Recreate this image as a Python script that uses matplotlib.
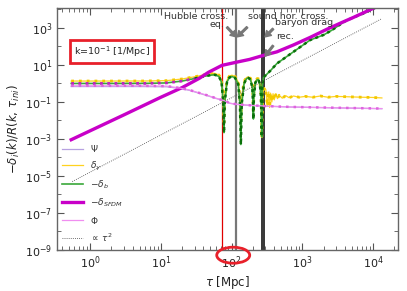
import matplotlib
matplotlib.use("Agg")
import matplotlib.pyplot as plt
from matplotlib.patches import Ellipse
from matplotlib.ticker import NullFormatter, LogLocator

# conformal time [Mpc] and perturbation amplitudes
tau_sfdm = [0.54, 3, 10, 20, 35, 47, 73, 116, 180, 282, 435, 746, 1290, 2220, 3500, 5250, 10000, 12500]
sfdm = [9.1e-4, 0.020, 0.18, 0.6, 1.9, 4.0, 9.5, 14, 20, 33, 51, 120, 310, 850, 1870, 3700, 11500, 17000]

tau_g = [0.54, 2, 6, 12, 20, 30, 40, 50, 58, 66, 72, 76, 78, 80, 86, 93, 101, 112, 124, 131, 135,
         139, 150, 162, 173, 185, 196, 200, 203, 206, 216, 230, 239, 250, 260, 265, 267, 275, 290,
         305, 320, 335, 345, 355, 370, 385, 400, 420, 445, 470, 520, 580, 650, 750, 900, 1100,
         1400, 1800, 2300, 3000, 4500, 7000, 10000, 13300]
delta_g = [1.35, 1.35, 1.36, 1.42, 1.75, 2.3, 2.9, 3.3, 3.5, 2.9, 1.6, 0.2, 0.008, 0.2, 1.5, 2.5,
           2.8, 2.4, 1.2, 0.2, 0.01, 0.2, 1.3, 2.1, 2.3, 1.9, 0.8, 0.2, 0.025, 0.3, 1.3, 1.85, 1.8,
           1.2, 0.3, 0.01, 0.0012, 0.3, 0.6, 0.45, 0.06, 0.35, 0.05, 0.3, 0.1, 0.28, 0.13, 0.25,
           0.15, 0.23, 0.16, 0.22, 0.17, 0.21, 0.18, 0.2, 0.18, 0.21, 0.18, 0.2, 0.19, 0.18, 0.175, 0.165]

tau_b = [0.54, 2, 6, 12, 20, 30, 40, 50, 58, 66, 72, 76, 78, 80, 86, 93, 101, 112, 124, 131, 135,
         139, 150, 162, 173, 185, 196, 200, 203, 206, 216, 230, 239, 250, 260, 265, 267, 272, 282,
         355, 437, 746, 1290, 1995, 2600, 3200, 4000, 5250, 8000, 12500]
delta_b = [1.0, 1.0, 1.01, 1.07, 1.35, 1.85, 2.4, 2.8, 2.95, 2.4, 1.2, 0.1, 0.0022, 0.1, 1.2, 2.1,
           2.4, 2.0, 0.9, 0.08, 0.0005, 0.08, 1.0, 1.8, 2.0, 1.6, 0.6, 0.12, 0.012, 0.15, 1.1, 1.6,
           1.6, 1.0, 0.2, 0.005, 0.0013, 0.8, 2.1, 5, 12, 51, 224, 420, 750, 1300, 2300, 3700, 7000, 17000]

tau_pot = [0.54, 5, 12, 17, 25, 45, 60, 77, 95, 130, 182, 300, 673, 2000, 5000, 13300]
phi = [0.75, 0.75, 0.72, 0.6, 0.45, 0.23, 0.16, 0.12, 0.085, 0.072, 0.066, 0.06, 0.054, 0.05, 0.047, 0.044]
psi = [0.68, 0.68, 0.66, 0.56, 0.43, 0.22, 0.155, 0.118, 0.084, 0.071, 0.065, 0.059, 0.053, 0.049, 0.046, 0.043]

tau_ref = [0.56, 13300]
tau2_ref = [5.0e-6, 3.2e3]

# event times [Mpc]
tau_hubble = 73.5
tau_eq = 116
tau_rec = 272
tau_drag = 287

fig = plt.figure(figsize=(4.07, 2.91), dpi=100)
ax = fig.add_axes([0.140, 0.141, 0.838, 0.832])

ax.axvline(tau_hubble, color="#e00000", lw=0.9, zorder=1)
ax.axvline(tau_eq, color="#777777", lw=1.6, zorder=1)
ax.axvline(tau_rec, color="black", lw=1.1, zorder=1)
ax.axvline(tau_drag, color="black", lw=1.1, zorder=1)

ax.plot(tau_pot, psi, color="#b7a1e0", lw=0.9, label=r"$\Psi$")
ax.plot(tau_g, delta_g, color="#ffd21f", lw=0.9, label=r"$\delta_\gamma$")
ax.plot(tau_g, delta_g, color="#f2c800", lw=2.0, dashes=(1, 1.8))
ax.plot(tau_b, delta_b, color="#3aa83a", lw=1.2, label=r"$-\delta_b$")
nb = 5
ax.plot(tau_b[:nb + 1], delta_b[:nb + 1], color="#c020c0", lw=2.0, dashes=(1, 1.6))
ax.plot(tau_b[nb:], delta_b[nb:], color="#0a700a", lw=1.8, dashes=(1.2, 1.4))
ax.plot(tau_sfdm, sfdm, color="#c800c8", lw=2.4, label=r"$-\delta_{SFDM}$")
ax.plot(tau_pot, phi, color="#f08ef0", lw=0.9, label=r"$\Phi$")
ax.plot(tau_pot, phi, color="#de64de", lw=1.8, dashes=(1, 2.0))
ax.plot(tau_ref, tau2_ref, color="#444444", lw=0.6, ls=(0, (1, 1.5)), label=r"$\propto\,\tau^2$")

ax.set_xscale("log")
ax.set_yscale("log")
ax.set_xlim(0.34, 2.25e4)
ax.set_ylim(1e-9, 1.22e4)
ax.set_yticks([1e-9, 1e-7, 1e-5, 1e-3, 1e-1, 1e1, 1e3])
ax.set_yticks([1e-8, 1e-6, 1e-4, 1e-2, 1, 1e2, 1e4], minor=True)
ax.yaxis.set_minor_formatter(NullFormatter())
ax.set_xticks([1, 10, 100, 1000, 10000])
ax.xaxis.set_minor_locator(LogLocator(base=10, subs=range(2, 10), numticks=20))
ax.xaxis.set_minor_formatter(NullFormatter())
ax.tick_params(which="both", direction="in", top=True, right=True, colors="#555555",
               labelcolor="#222222", labelsize=8)
ax.tick_params(which="major", length=5, width=0.8)
ax.tick_params(which="minor", length=2.8, width=0.6)
for s in ax.spines.values():
    s.set_color("#666666")
    s.set_linewidth(1.0)

ax.set_xlabel(r"$\tau$ [Mpc]", fontsize=8.5, color="#222222", labelpad=2)
ax.set_ylabel(r"$-\delta_i(k)/R(k,\,\tau_{ini})$", fontsize=8.5, color="#222222", labelpad=2)

leg = ax.legend(loc="lower left", bbox_to_anchor=(-0.005, 0.0), frameon=False, fontsize=6.5,
                handlelength=2.4, labelspacing=0.62, handletextpad=0.8, borderaxespad=0.3)
for t in leg.get_texts():
    t.set_color("#333333")

ax.text(0.161, 0.818, r"k=10$^{-1}$ [1/Mpc]", transform=ax.transAxes, fontsize=6.8,
        ha="center", va="center", color="#222222",
        bbox=dict(boxstyle="square,pad=0.45", fc="white", ec="#e8202a", lw=2))

arrow = dict(facecolor="#777777", edgecolor="#777777", width=1.2, headwidth=5, headlength=4, shrink=0)
txt = dict(fontsize=6.8, color="#333333", ha="center", va="center")
ax.text(32, 3960, "Hubble cross.", **txt)
ax.text(63, 1450, "eq.", **txt)
ax.text(628, 3960, "sound hor. cross.", **txt)
ax.text(1060, 1870, "baryon drag", **txt)
ax.text(560, 325, "rec.", **txt)
ax.annotate("", xy=(116, 330), xytext=(86, 1100), arrowprops=arrow)
ax.annotate("", xy=(120, 330), xytext=(166, 1100), arrowprops=arrow)
ax.annotate("", xy=(297, 330), xytext=(386, 900), arrowprops=arrow)
ax.annotate("", xy=(297, 30), xytext=(386, 110), arrowprops=arrow)

fig.patches.append(Ellipse((0.573, 0.123), 0.081, 0.055, transform=fig.transFigure,
                           fill=False, ec="#e8202a", lw=2))

fig.savefig("out.png", dpi=100)
